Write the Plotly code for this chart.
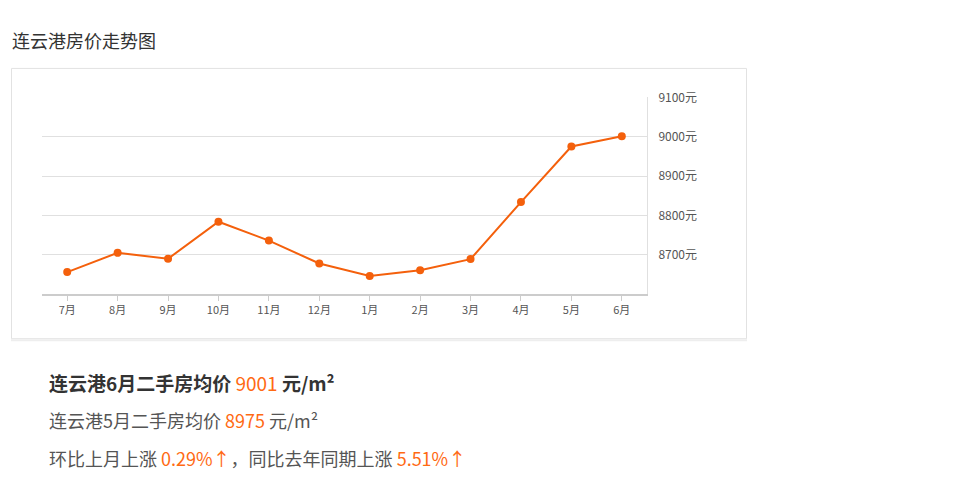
import plotly.graph_objects as go

months = ["7月", "8月", "9月", "10月", "11月", "12月", "1月", "2月", "3月", "4月", "5月", "6月"]
prices = [8656, 8705, 8690, 8784, 8736, 8678, 8646, 8661, 8689, 8834, 8975, 9001]
y_ticks = [8700, 8800, 8900, 9000, 9100]
y_tick_labels = ["8700元", "8800元", "8900元", "9000元", "9100元"]

# page body has an 8px margin; figure sized to fit inside the window
OFF = 8
W, H = 967 - 2 * OFF, 499 - 2 * OFF
def px(x):
    return (x - OFF) / W
def py(y):
    return 1 - (y - OFF) / H

ORANGE = "#f4600c"
TXT_ORANGE = "#ff6a13"
FONT = "Noto Sans CJK SC, Microsoft YaHei, sans-serif"

fig = go.Figure()
fig.add_trace(go.Scatter(
    x=months, y=prices, mode="lines+markers",
    line=dict(color=ORANGE, width=2),
    marker=dict(color=ORANGE, size=8),
    hoverinfo="x+y", showlegend=False,
))

fig.update_layout(
    width=W, height=H,
    margin=dict(l=0, r=0, t=0, b=0),
    paper_bgcolor="white", plot_bgcolor="white",
    font=dict(family=FONT, color="#555"),
    xaxis=dict(
        domain=[px(42), px(647)],
        type="category", range=[-0.5, 11.5],
        showgrid=False, zeroline=False,
        showline=True, linecolor="#cccccc", linewidth=2,
        ticks="outside", ticklen=5, tickcolor="#cccccc",
        tickfont=dict(size=11, color="#555", family=FONT),
        fixedrange=True,
    ),
    yaxis=dict(
        domain=[py(290), py(89)],
        range=[8600, 9100], side="right",
        tickvals=y_ticks, ticktext=y_tick_labels,
        showgrid=True, gridcolor="#e0e0e0", gridwidth=1,
        zeroline=False,
        showline=True, linecolor="#e0e0e0", linewidth=1,
        ticks="", ticklabelstandoff=8,
        tickfont=dict(size=12, color="#555", family=FONT),
        fixedrange=True,
    ),
    shapes=[
        dict(type="rect", xref="paper", yref="paper",
             x0=px(11.5), x1=px(746.5), y0=py(335.5), y1=py(59.5),
             line=dict(color="#e2e2e2", width=1), layer="below"),
        dict(type="line", xref="paper", yref="paper",
             x0=px(11), x1=px(747), y0=py(337), y1=py(337),
             line=dict(color="#eeeeee", width=2), layer="below"),
    ],
    annotations=[
        dict(text="连云港房价走势图", xref="paper", yref="paper",
             x=px(10), y=py(30), xanchor="left", yanchor="middle",
             showarrow=False, font=dict(size=18, color="#333", family=FONT)),
        dict(text=f"<b>连云港6月二手房均价</b> <span style='color:{TXT_ORANGE}'>9001</span> <b>元/m²</b>",
             xref="paper", yref="paper",
             x=px(47), y=py(380), xanchor="left", yanchor="middle",
             showarrow=False, font=dict(size=19, color="#333", family=FONT)),
        dict(text=f"连云港5月二手房均价 <span style='color:{TXT_ORANGE}'>8975</span> 元/m²",
             xref="paper", yref="paper",
             x=px(47), y=py(418), xanchor="left", yanchor="middle",
             showarrow=False, font=dict(size=18, color="#555", family=FONT)),
        dict(text=f"环比上月上涨 <span style='color:{TXT_ORANGE}'>0.29%↑</span>，同比去年同期上涨 <span style='color:{TXT_ORANGE}'>5.51%↑</span>",
             xref="paper", yref="paper",
             x=px(47), y=py(457), xanchor="left", yanchor="middle",
             showarrow=False, font=dict(size=18, color="#555", family=FONT)),
    ],
)

fig.write_html("out.html")
